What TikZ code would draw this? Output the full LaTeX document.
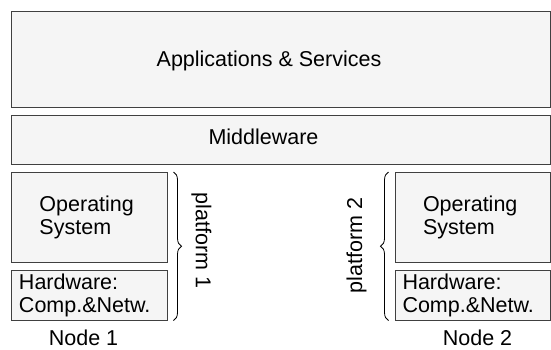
\documentclass[tikz,border=0pt]{standalone}
\usepackage{fontspec}
\setmainfont{Liberation Sans}
\usetikzlibrary{decorations.pathreplacing, calc}

\begin{document}
\begin{tikzpicture}[
    x=1bp, y=-1bp,
    every node/.style={font=\fontsize{21.5bp}{23bp}\selectfont},
    layer/.style={draw=black!75, fill=black!4, line width=1bp, inner sep=0pt, align=left},
    osbox/.style={layer, inner xsep=28bp, text width=99.5bp, minimum height=89.5bp},
    hwbox/.style={layer, inner xsep=7.5bp, text width=140.5bp, minimum height=49.5bp},
    platbrace/.style={decorate, decoration={brace, amplitude=8bp}, line width=0.8bp}
  ]
  \useasboundingbox (0,0) rectangle (551,349);

  % layers shared by both nodes
  \node[layer, minimum width=539bp, minimum height=96bp] (apps) at (281,59.5) {};
  \node (appst) at ($(apps.center)+(-12,1)$) {Applications \& Services};
  \node[layer, minimum width=539bp, minimum height=49bp] (mw) at (281,139.5) {};
  \node (mwt) at ($(mw.center)+(-17.5,-3)$) {Middleware};

  % node 1
  \node[osbox] (os1) at (89.25,217.25) {Operating\\System};
  \node[hwbox] (hw1) at (89.25,295.25) {Hardware:\\Comp.\&Netw.};
  \node (n1) at (83.5,337.5) {Node 1};

  % node 2
  \node[osbox] (os2) at (472.75,217.25) {Operating\\System};
  \node[hwbox] (hw2) at (472.75,295.25) {Hardware:\\Comp.\&Netw.};
  \node (n2) at (477.5,337.5) {Node 2};

  % platform braces
  \draw[platbrace] ([xshift=6bp]os1.north east) -- ([xshift=6bp]hw1.south east);
  \coordinate (b1) at ($([xshift=6bp]os1.north east)!0.5!([xshift=6bp]hw1.south east)$);
  \node[rotate=-90] (p1) at ($(b1)+(28,-6)$) {platform 1};

  \draw[platbrace] ([xshift=-6bp]hw2.south west) -- ([xshift=-6bp]os2.north west);
  \coordinate (b2) at ($([xshift=-6bp]os2.north west)!0.5!([xshift=-6bp]hw2.south west)$);
  \node[rotate=90] (p2) at ($(b2)+(-32,-1)$) {platform 2};
\end{tikzpicture}
\end{document}
